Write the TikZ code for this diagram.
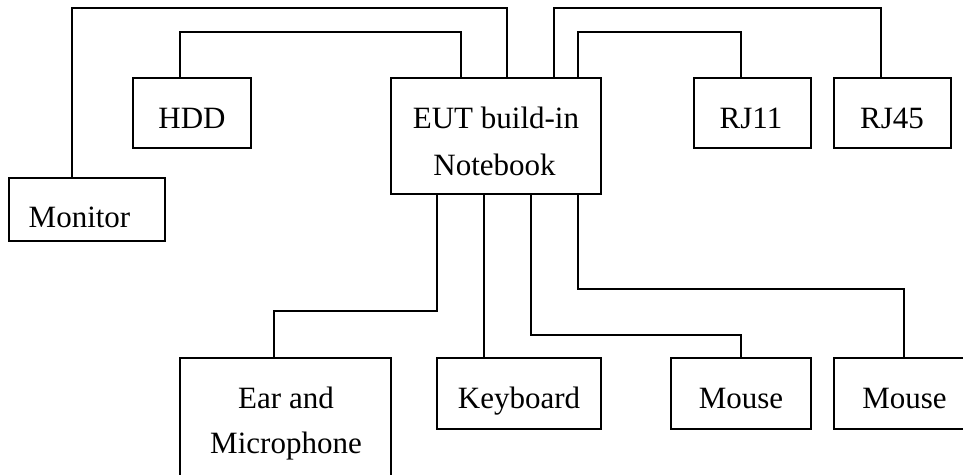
\documentclass[tikz,border=0pt]{standalone}
\usepackage{fontspec}
\setmainfont{Liberation Serif}
\begin{document}
\begin{tikzpicture}[x=1pt,y=-1pt,
  box/.style={draw,line width=1.3pt,inner sep=0pt,outer sep=0pt},
  lbl/.style={anchor=base,inner sep=0pt,font=\fontsize{31}{37}\selectfont},
  wire/.style={draw,line width=1.3pt}]
\useasboundingbox (0,0) rectangle (963,474);
\clip (0,0) rectangle (963,474);
% boxes
\node[box,minimum width=156pt,minimum height=63pt] (mon) at (87,209.5) {};
\node[box,minimum width=118pt,minimum height=70pt] (hdd) at (192,113) {};
\node[box,minimum width=210pt,minimum height=116pt] (eut) at (496,136) {};
\node[box,minimum width=117pt,minimum height=70pt] (rj11) at (752.5,113) {};
\node[box,minimum width=117pt,minimum height=70pt] (rj45) at (892.5,113) {};
\node[box,minimum width=211pt,minimum height=132pt] (ear) at (285.5,424) {};
\node[box,minimum width=164pt,minimum height=71pt] (kbd) at (519,393.5) {};
\node[box,minimum width=140pt,minimum height=71pt] (m1) at (741,393.5) {};
\node[box,minimum width=141pt,minimum height=71pt] (m2) at (904.5,393.5) {};
% labels
\node[lbl] (tmon) at (79.5,227) {Monitor};
\node[lbl] (thdd) at (192,128) {HDD};
\node[lbl] (teut1) at (496,128) {EUT build-in};
\node[lbl] (teut2) at (494.5,175) {Notebook};
\node[lbl] (trj11) at (751,128) {RJ11};
\node[lbl] (trj45) at (892,128) {RJ45};
\node[lbl] (tear1) at (286,408) {Ear and};
\node[lbl] (tear2) at (286,453) {Microphone};
\node[lbl] (tkbd) at (519,408) {Keyboard};
\node[lbl] (tm1) at (741,408) {Mouse};
\node[lbl] (tm2) at (904.5,408) {Mouse};
% levels
\coordinate (lvA) at (0,8);
\coordinate (lvB) at (0,32);
\coordinate (lvC) at (0,311);
\coordinate (lvD) at (0,335);
\coordinate (lvE) at (0,289);
% endpoints
\coordinate (monT) at ([xshift=63pt]mon.north west);
\coordinate (hddT) at ([xshift=47pt]hdd.north west);
\coordinate (rj11T) at ([xshift=47pt]rj11.north west);
\coordinate (rj45T) at ([xshift=47pt]rj45.north west);
\coordinate (eutT1) at ([xshift=70pt]eut.north west);
\coordinate (eutT2) at ([xshift=116pt]eut.north west);
\coordinate (eutT3) at ([xshift=163pt]eut.north west);
\coordinate (eutT4) at ([xshift=187pt]eut.north west);
\coordinate (eutB1) at ([xshift=46pt]eut.south west);
\coordinate (eutB2) at ([xshift=93pt]eut.south west);
\coordinate (eutB3) at ([xshift=140pt]eut.south west);
\coordinate (eutB4) at ([xshift=187pt]eut.south west);
\coordinate (earT) at ([xshift=94pt]ear.north west);
\coordinate (kbdT) at ([xshift=47pt]kbd.north west);
\coordinate (m1T) at (m1.north);
\coordinate (m2T) at ([xshift=70pt]m2.north west);
% wires
\draw[wire] (monT) -- (monT |- lvA) -| (eutT2);
\draw[wire] (hddT) -- (hddT |- lvB) -| (eutT1);
\draw[wire] (eutT3) -- (eutT3 |- lvA) -| (rj45T);
\draw[wire] (eutT4) -- (eutT4 |- lvB) -| (rj11T);
\draw[wire] (eutB1) -- (eutB1 |- lvC) -| (earT);
\draw[wire] (eutB2) -- (kbdT);
\draw[wire] (eutB3) -- (eutB3 |- lvD) -| (m1T);
\draw[wire] (eutB4) -- (eutB4 |- lvE) -| (m2T);
\end{tikzpicture}
\end{document}
